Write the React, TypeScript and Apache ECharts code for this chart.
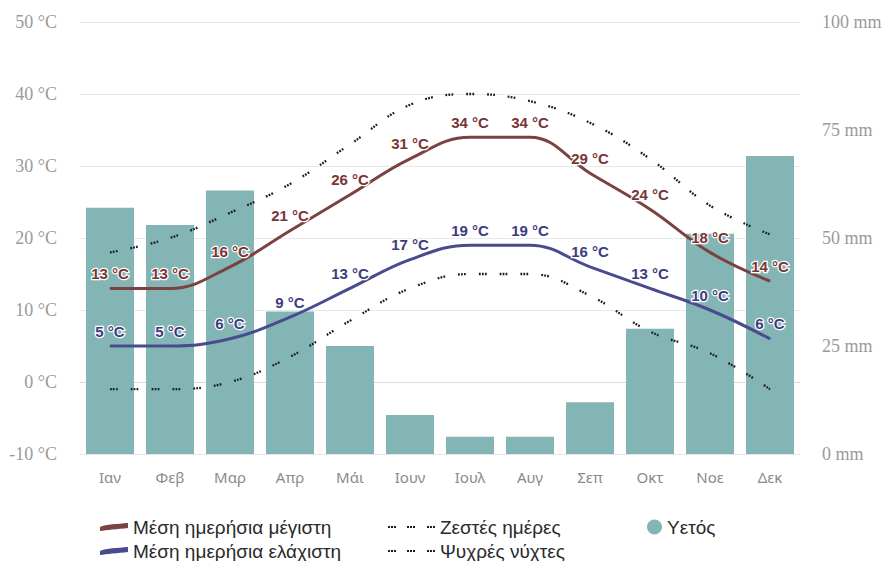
import React, { useEffect, useRef } from 'react';
import * as echarts from 'echarts';

const months = ['Ιαν', 'Φεβ', 'Μαρ', 'Απρ', 'Μάι', 'Ιουν', 'Ιουλ', 'Αυγ', 'Σεπ', 'Οκτ', 'Νοε', 'Δεκ'];
const maxTemp = [13, 13, 16, 21, 26, 31, 34, 34, 29, 24, 18, 14];
const minTemp = [5, 5, 6, 9, 13, 17, 19, 19, 16, 13, 10, 6];
const hotDays = [18, 20, 23.5, 27.5, 33, 38.5, 40, 39, 36, 31, 24.5, 20.5];
const coldNights = [-1, -1, 0, 3.5, 8.5, 13, 15, 15, 12, 7, 4, -1];
const rain = [57, 53, 61, 33, 25, 9, 4, 4, 12, 29, 51, 69];

const names = {
  max: 'Μέση ημερήσια μέγιστη',
  min: 'Μέση ημερήσια ελάχιστη',
  hot: 'Ζεστές ημέρες',
  cold: 'Ψυχρές νύχτες',
  rain: 'Υετός',
};

const dotIcon = (() => {
  let d = 'path://';
  [0, 19, 39].forEach((g) => {
    [0, 3, 6].forEach((o) => {
      d += `M${g + o},0L${g + o + 2},0L${g + o + 2},2L${g + o},2Z`;
    });
  });
  return d;
})();
const lineIcon = 'path://M0,4 C6,1 18,1 28,0 L28,5 C18,6 6,7 0,8 Z';

export default function App() {
  const ref = useRef<HTMLDivElement>(null);
  useEffect(() => {
    if (!ref.current) return;
    const chart = echarts.init(ref.current, undefined, { renderer: 'svg' });
    const labelBase = {
      show: true,
      position: 'top' as const,
      distance: 7,
      formatter: '{c} °C',
      fontFamily: 'Liberation Sans, Arial, sans-serif',
      fontWeight: 'bold' as const,
      fontSize: 15,
      textBorderColor: '#ffffff',
      textBorderWidth: 2.5,
    };
    const dotted = {
      type: [1.8, 1.2, 1.8, 1.2, 1.8, 13] as number[],
      width: 2.3,
      color: '#1e1e1e',
    };
    const legendText = {
      fontFamily: 'Liberation Sans, Arial, sans-serif',
      fontSize: 19,
      color: '#2a2a2a',
      lineHeight: 20,
    };
    const leg = (name: string, left: number, top: number, extra: any) => ({
      left,
      top,
      padding: 0,
      textStyle: legendText,
      itemStyle: { borderWidth: 0 },
      data: [name],
      selectedMode: false,
      ...extra,
    });
    const lineLeg = { itemWidth: 28, itemHeight: 8, icon: lineIcon };
    const dotLeg = {
      itemWidth: 47,
      itemHeight: 2,
      icon: dotIcon,
      itemStyle: { borderWidth: 0, color: '#1e1e1e' },
    };
    chart.setOption({
      animation: false,
      backgroundColor: '#ffffff',
      grid: { left: 80, right: 92, top: 22, bottom: 107 },
      legend: [
        leg(names.max, 100, 517, lineLeg),
        leg(names.min, 100, 541, lineLeg),
        leg(names.hot, 388, 517, dotLeg),
        leg(names.cold, 388, 541, dotLeg),
        leg(names.rain, 647, 517, { itemWidth: 15, itemHeight: 15, icon: 'circle' }),
      ],
      xAxis: {
        type: 'category',
        data: months,
        axisLine: { lineStyle: { color: '#dddddd', width: 1 } },
        axisTick: { show: false },
        axisLabel: {
          margin: 15,
          color: '#8a8a8a',
          fontSize: 15,
          fontFamily: 'Noto Sans, Open Sans, sans-serif',
        },
      },
      yAxis: [
        {
          type: 'value',
          min: -10,
          max: 50,
          interval: 10,
          axisLine: { show: false },
          axisTick: { show: false },
          splitLine: { lineStyle: { color: '#e8e8e8', width: 1 } },
          axisLabel: {
            margin: 23,
            formatter: '{value} °C',
            color: '#9a9a9a',
            fontSize: 18,
            fontFamily: 'Liberation Serif, DejaVu Serif, serif',
          },
        },
        {
          type: 'value',
          min: 0,
          max: 100,
          interval: 25,
          axisLine: { show: false },
          axisTick: { show: false },
          splitLine: { show: false },
          axisLabel: {
            margin: 22,
            formatter: '{value} mm',
            color: '#9a9a9a',
            fontSize: 18,
            fontFamily: 'Liberation Serif, DejaVu Serif, serif',
          },
        },
      ],
      series: [
        {
          name: names.rain,
          type: 'bar',
          yAxisIndex: 1,
          data: rain,
          barWidth: '80%',
          itemStyle: { color: '#84b5b5' },
          z: 1,
        },
        {
          name: names.hot,
          type: 'line',
          data: hotDays,
          smooth: 0.4,
          symbol: 'none',
          lineStyle: dotted,
          itemStyle: { color: '#1e1e1e' },
          z: 2,
        },
        {
          name: names.cold,
          type: 'line',
          data: coldNights,
          smooth: 0.4,
          symbol: 'none',
          lineStyle: dotted,
          itemStyle: { color: '#1e1e1e' },
          z: 2,
        },
        {
          name: names.max,
          type: 'line',
          data: maxTemp,
          smooth: 0.4,
          symbol: 'circle',
          symbolSize: 1,
          showSymbol: true,
          lineStyle: { color: '#7c4242', width: 3 },
          itemStyle: { color: '#7c4242' },
          label: { ...labelBase, color: '#7a3434' },
          z: 3,
        },
        {
          name: names.min,
          type: 'line',
          data: minTemp,
          smooth: 0.4,
          symbol: 'circle',
          symbolSize: 1,
          showSymbol: true,
          lineStyle: { color: '#4a4a8e', width: 3 },
          itemStyle: { color: '#4a4a8e' },
          label: { ...labelBase, color: '#3c3c80' },
          z: 3,
        },
      ],
    });
    return () => chart.dispose();
  }, []);
  return (
    <div
      ref={ref}
      style={{ position: 'fixed', left: 0, top: 0, width: 892, height: 561, background: '#fff' }}
    />
  );
}
